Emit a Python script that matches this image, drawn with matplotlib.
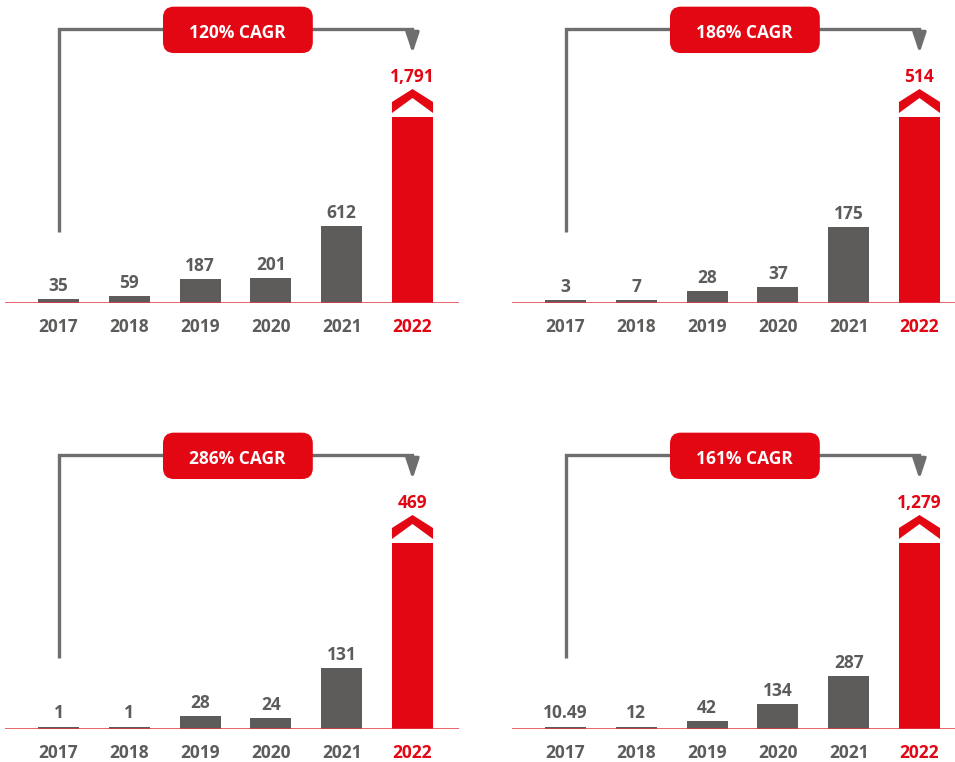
import matplotlib.pyplot as plt
from matplotlib.patches import FancyBboxPatch, Polygon

plt.rcParams['font.family'] = ['Open Sans', 'DejaVu Sans']

years = ["2017", "2018", "2019", "2020", "2021", "2022"]
panel_a = [35, 59, 187, 201, 612, 1791]
panel_b = [3, 7, 28, 37, 175, 514]
panel_c = [1, 1, 28, 24, 131, 469]
panel_d = [10.49, 12, 42, 134, 287, 1279]
cagr = ["120% CAGR", "186% CAGR", "286% CAGR", "161% CAGR"]

# display scale (value at top of each panel) -- bars are to scale except 2022
tops = [2400, 700, 650, 1630]

GREY = "#5e5c5a"
RED = "#e30613"
LINE = "#6e6e6e"

W, H = 955, 762
AX_W, AX_H = 454, 303
BAR_W = 0.58
FS = 12.5

fig = plt.figure(figsize=(W / 100, H / 100), dpi=100)


def fmt(v):
    if v != int(v):
        return f"{v:,.2f}"
    return f"{int(v):,}"


def draw_panel(x0, y0, values, title, top):
    ax = fig.add_axes([x0 / W, 1 - y0 / H, AX_W / W, AX_H / H])
    ax.set_xlim(-0.756, 5.657)
    ax.set_ylim(0, top)
    ax.axis("off")
    px = top / AX_H
    cap = 186 * px
    n = len(values)
    heights = [max(min(v, cap), 2.5 * px) for v in values]
    colors = [GREY] * (n - 1) + [RED]
    ax.bar(range(n), heights, width=BAR_W, color=colors, zorder=2)
    ax.axhline(0, color="#e23a44", lw=1.1, zorder=3)

    for i, (v, h) in enumerate(zip(values, heights)):
        last = i == n - 1
        c = RED if last else GREY
        ax.annotate(fmt(v), (i, h), xytext=(0, 35 if last else 8),
                    textcoords="offset pixels", ha="center", va="baseline",
                    color=c, fontsize=FS, fontweight="bold")
        ax.annotate(years[i], (i, 0), xytext=(0, -29),
                    textcoords="offset pixels", ha="center", va="baseline",
                    color=c, fontsize=FS, fontweight="bold")

    # chevron above the truncated 2022 bar
    t = heights[-1]
    xl, xr = n - 1 - BAR_W / 2, n - 1 + BAR_W / 2
    pts = [(xl, t + 4 * px), (xl, t + 15 * px), (n - 1, t + 28 * px),
           (xr, t + 15 * px), (xr, t + 4 * px), (n - 1, t + 19 * px)]
    ax.add_patch(Polygon(pts, closed=True, color=RED, lw=0, zorder=2))

    # bracket connector with arrow
    trans = ax.get_xaxis_transform()
    ax.plot([0, 0, n - 1, n - 1], [0.234, 0.904, 0.904, 0.87],
            transform=trans, color=LINE, lw=2.4,
            solid_joinstyle="miter", solid_capstyle="butt", zorder=3)
    ax.annotate("", xy=(n - 1, 0.824), xytext=(n - 1, 0.88),
                xycoords=trans, textcoords=trans,
                arrowprops=dict(arrowstyle="-|>,head_length=1.2,head_width=0.4",
                                color=LINE, lw=2.4, shrinkA=0, shrinkB=0))

    box = FancyBboxPatch((0.348, 0.825), 0.330, 0.153,
                         boxstyle="round,pad=0,rounding_size=0.024",
                         mutation_aspect=AX_W / AX_H, transform=ax.transAxes,
                         fc=RED, ec="none", zorder=4)
    ax.add_patch(box)
    ax.text(0.512, 0.876, title, transform=ax.transAxes, ha="center",
            va="baseline", color="white", fontsize=FS, fontweight="bold",
            zorder=5)


draw_panel(5, 303, panel_a, cagr[0], tops[0])
draw_panel(512, 303, panel_b, cagr[1], tops[1])
draw_panel(5, 729, panel_c, cagr[2], tops[2])
draw_panel(512, 729, panel_d, cagr[3], tops[3])

plt.savefig("out.png", dpi=100)
plt.close()
